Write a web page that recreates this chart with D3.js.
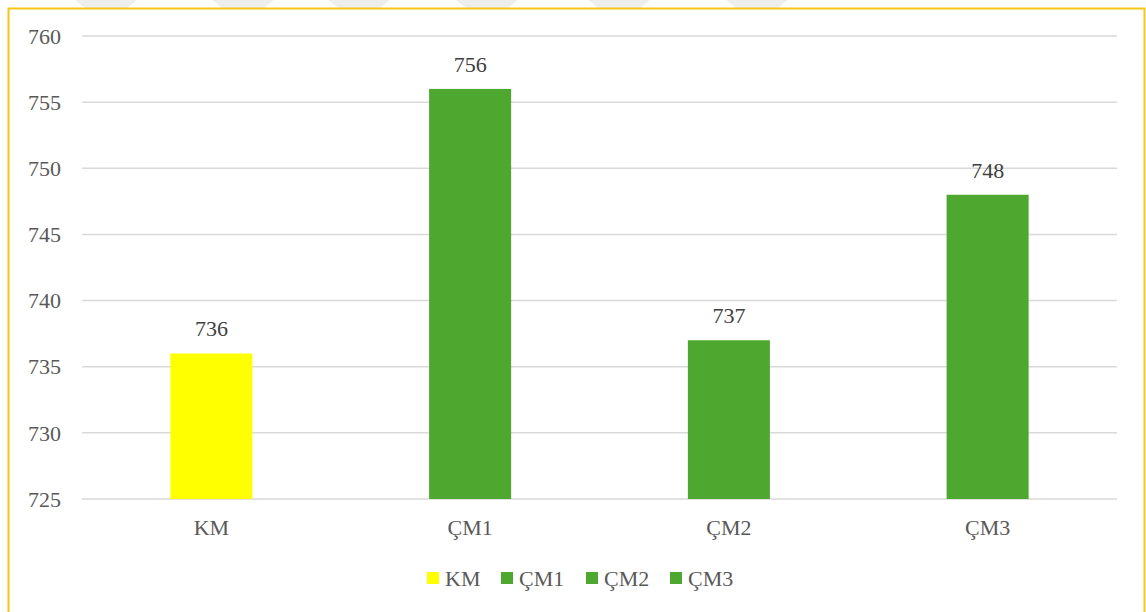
<!DOCTYPE html>
<html>
<head>
<meta charset="utf-8">
<script src="https://cdn.jsdelivr.net/npm/d3@7"></script>
<style>
  body { margin: 0; background: #fff; }
  svg { display: block; }
</style>
</head>
<body>
<div class="chart"></div>
<script>
let categories = ['KM', 'ÇM1', 'ÇM2', 'ÇM3'],
    values = [736, 756, 737, 748],
    colors = ['#ffff00', '#4ea72e', '#4ea72e', '#4ea72e'],
    yTicks = [725, 730, 735, 740, 745, 750, 755, 760];

let W = 1146, H = 612,
    margin = {t: 36, l: 82, r: 29, b: 113},
    width = W - margin.l - margin.r,
    height = H - margin.t - margin.b,
    font = '"Liberation Serif", "DejaVu Serif", "Times New Roman", serif',
    textColor = '#595959';

let root = d3.select('.chart')
    .append('svg')
    .attr('width', W)
    .attr('height', H)
    .attr('font-family', font);

// faint watermark stripes above the frame
let stripes = [75, 212, 328, 456, 588, 726];
root.selectAll('.wm')
    .data(stripes)
    .enter()
    .append('path')
    .attr('d', x => `M${x},0 L${x + 62},0 L${x + 52},8 L${x + 10},8 Z`)
    .attr('fill', '#eeeeee');

// outer frame
root.append('rect')
    .attr('x', 8.5).attr('y', 8.5)
    .attr('width', W - 10).attr('height', H + 20)
    .attr('fill', 'none')
    .attr('stroke', '#f5c518')
    .attr('stroke-width', 2);

let svg = root.append('g')
    .attr('transform', `translate(${margin.l}, ${margin.t})`);

let x = d3.scaleBand()
    .domain(categories)
    .range([0, width])
    .paddingInner(0.683)
    .paddingOuter(0.3415);

let y = d3.scaleLinear()
    .domain([725, 760])
    .range([height, 0]);

// gridlines
svg.selectAll('.grid')
    .data(yTicks)
    .enter()
    .append('line')
    .attr('x1', 0).attr('x2', width)
    .attr('y1', d => y(d)).attr('y2', d => y(d))
    .attr('stroke', '#d9d9d9')
    .attr('stroke-width', 1.5);

// y tick labels
svg.selectAll('.ytick')
    .data(yTicks)
    .enter()
    .append('text')
    .attr('x', -21)
    .attr('y', d => y(d))
    .attr('dy', '0.35em')
    .attr('text-anchor', 'end')
    .attr('fill', textColor)
    .attr('font-size', 22)
    .text(d => d);

// bars
svg.selectAll('.bar')
    .data(categories)
    .enter()
    .append('rect')
    .attr('x', c => x(c))
    .attr('y', (c, i) => y(values[i]))
    .attr('width', x.bandwidth())
    .attr('height', (c, i) => height - y(values[i]))
    .attr('fill', (c, i) => colors[i]);

// value labels
svg.selectAll('.val')
    .data(categories)
    .enter()
    .append('text')
    .attr('x', c => x(c) + x.bandwidth() / 2)
    .attr('y', (c, i) => y(values[i]) - 17)
    .attr('text-anchor', 'middle')
    .attr('fill', '#404040')
    .attr('font-size', 22)
    .text((c, i) => values[i]);

// category labels
svg.selectAll('.cat')
    .data(categories)
    .enter()
    .append('text')
    .attr('x', c => x(c) + x.bandwidth() / 2)
    .attr('y', height + 36)
    .attr('text-anchor', 'middle')
    .attr('fill', textColor)
    .attr('font-size', 22)
    .text(c => c);

// legend
let legendX = [427, 501, 586, 670];
let lg = root.selectAll('.lg')
    .data(categories)
    .enter()
    .append('g')
    .attr('transform', (c, i) => `translate(${legendX[i]}, 578)`);
lg.append('rect')
    .attr('x', 0).attr('y', -6)
    .attr('width', 12).attr('height', 12)
    .attr('fill', (c, i) => colors[i]);
lg.append('text')
    .attr('x', 18)
    .attr('dy', '0.35em')
    .attr('fill', textColor)
    .attr('font-size', 22)
    .text(c => c);
</script>
</body>
</html>
